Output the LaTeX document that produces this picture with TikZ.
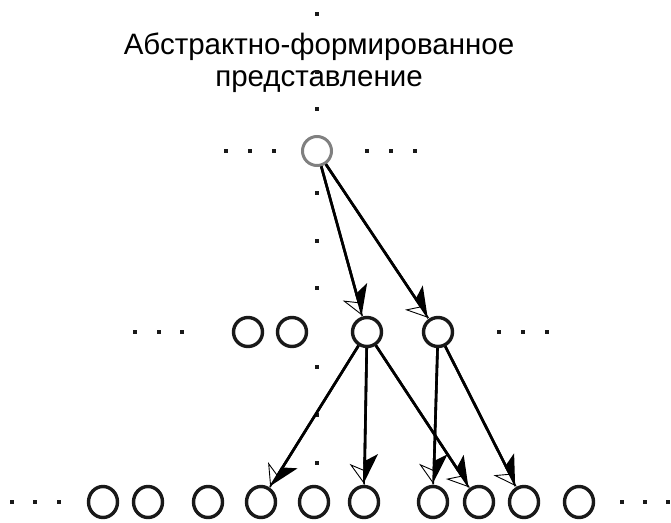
\documentclass[tikz,border=0pt]{standalone}
\usepackage{fontspec}
\setmainfont{Liberation Sans}
\usepackage{xcolor}
\usetikzlibrary{shapes.geometric,arrows.meta}
\definecolor{ringgray}{RGB}{128,128,128}
\definecolor{ringdark}{RGB}{25,25,25}

\begin{document}
\begin{tikzpicture}[x=1pt, y=-1pt,
    unit/.style={draw=ringdark, line width=3.4pt, ellipse, minimum width=29pt, minimum height=29pt, inner sep=0pt},
    lowunit/.style={unit, minimum height=31pt},
    link/.style={line width=2.6pt, -{Stealth[harpoon, length=28pt, width=26pt, inset=7pt]},
        postaction={draw, line width=2.6pt, -{Stealth[harpoon, swap, open, length=20pt, width=30pt, inset=6pt, line width=0.9pt]}}}]
    \useasboundingbox (0,0) rectangle (671,522);

    % caption
    \node[align=center, inner sep=0pt, font=\fontsize{29.5}{32}\selectfont] (caption) at (319,63) {Абстрактно-формированное\\представление};

    % abstract unit
    \node[unit, draw=ringgray, line width=3pt] (top) at (317,151) {};

    % middle layer
    \node[unit] (m1) at (248,332) {};
    \node[unit] (m2) at (292,332) {};
    \node[unit] (m3) at (367,332) {};
    \node[unit] (m4) at (438,332) {};

    % lower layer
    \node[lowunit] (b1) at (103,502) {};
    \node[lowunit] (b2) at (148,502) {};
    \node[lowunit] (b3) at (208,502) {};
    \node[lowunit] (b4) at (261,502) {};
    \node[lowunit] (b5) at (314,502) {};
    \node[lowunit] (b6) at (364,502) {};
    \node[lowunit] (b7) at (433,502) {};
    \node[lowunit] (b8) at (479,502) {};
    \node[lowunit] (b9) at (524,502) {};
    \node[lowunit] (b10) at (579,502) {};

    % dots
    \foreach \y in {14,72,109,193,241,288,367,415,463}
        \fill[ringdark] (317,\y) +(-2.2,-2.2) rectangle +(2.2,2.2);
    \foreach \x/\y in {226/151,250/151,274/151,367/151,391/151,415/151,
                       135/332,159/332,182/332,499/332,523/332,547/332,
                       12/502,35/502,59/502,622/502,645/502,668/502}
        \fill[ringdark] (\x,\y) +(-2.2,-2.2) rectangle +(2.2,2.2);

    % connections
    \draw[link] (top) -- (m3);
    \draw[link] (top) -- (m4);
    \draw[link] (m3) -- (b4);
    \draw[link] (m3) -- (b6);
    \draw[link] (m3) -- (b8);
    \draw[link] (m4) -- (b7);
    \draw[link] (m4) -- (b9);
\end{tikzpicture}
\end{document}
